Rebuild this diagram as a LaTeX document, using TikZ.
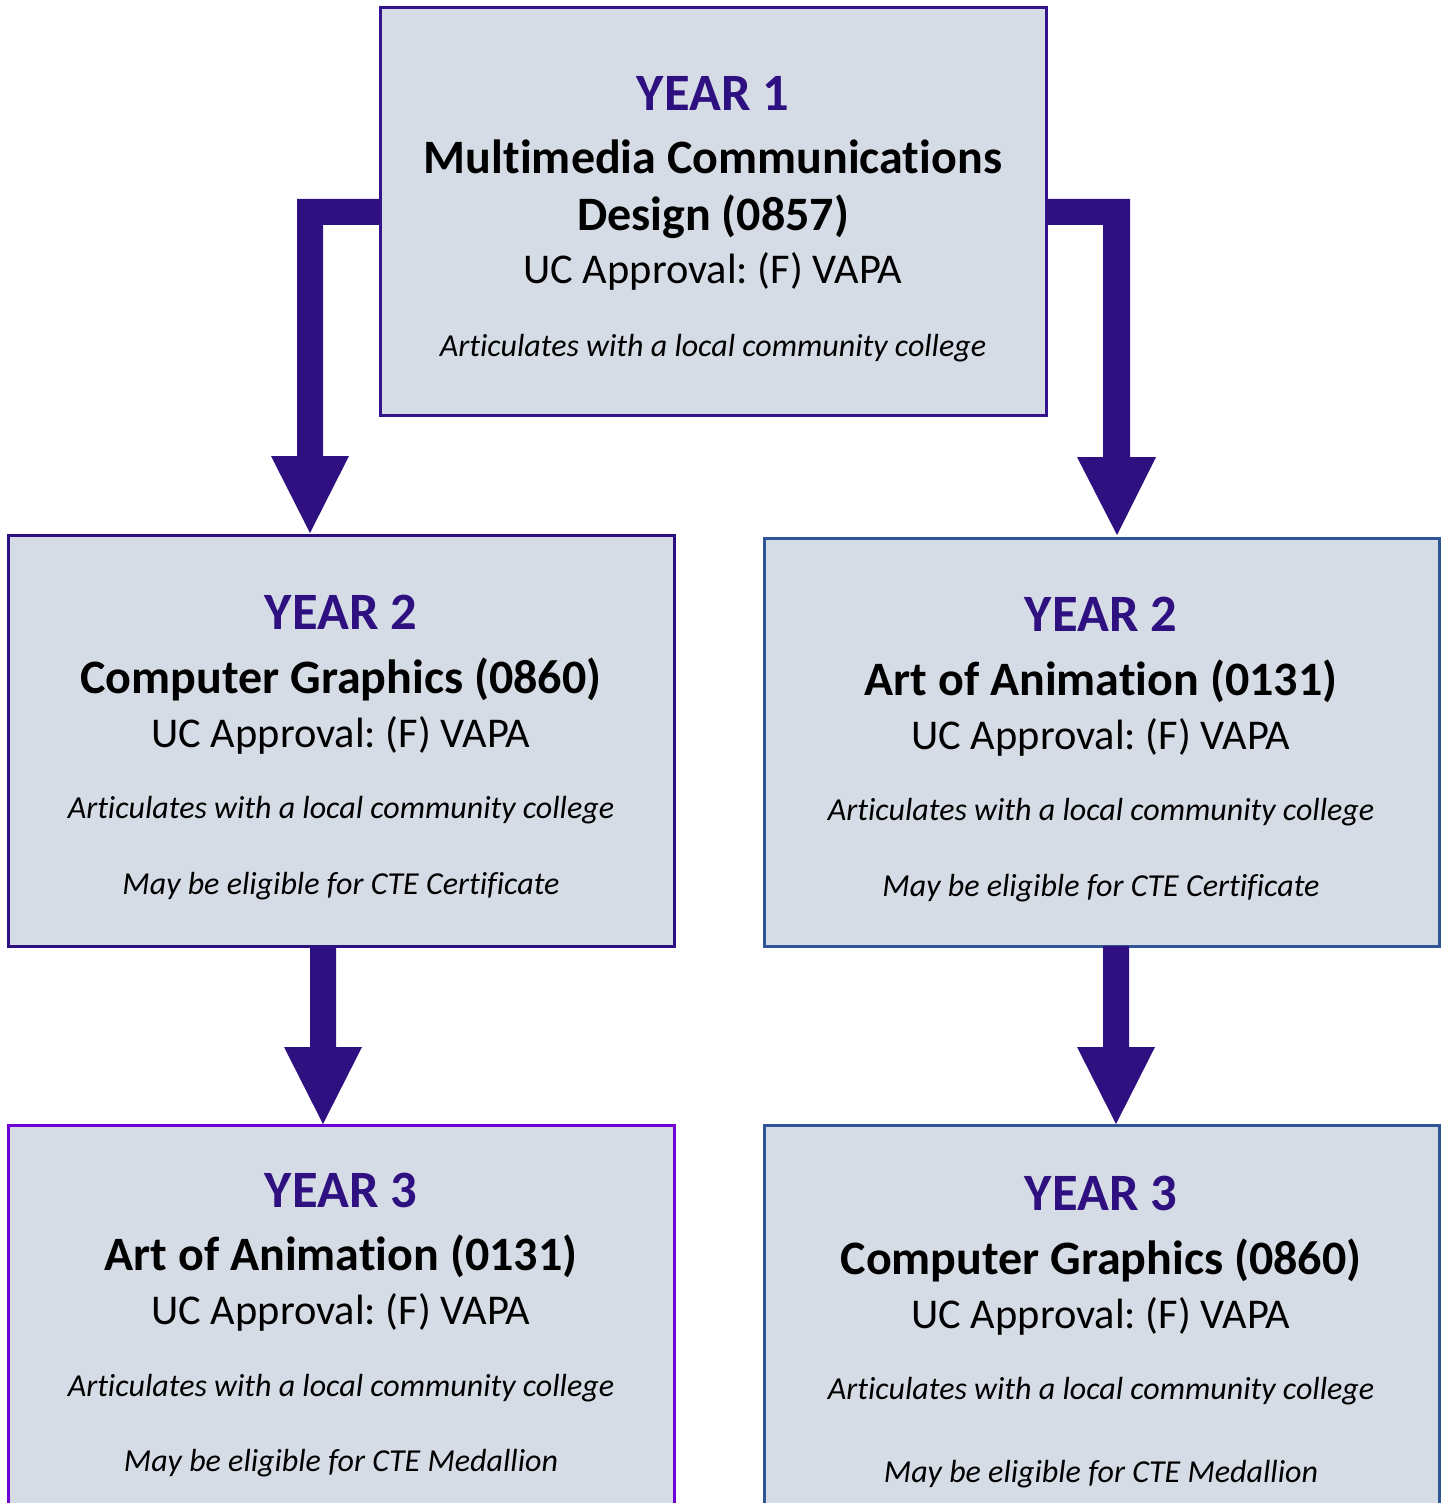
\documentclass[tikz,border=0pt]{standalone}
\usepackage{fontspec}
\setmainfont[Ligatures={NoCommon,TeX}]{Carlito}
\definecolor{boxfill}{HTML}{D6DCE5}
\definecolor{deeppurple}{HTML}{2E1080}
\definecolor{topborder}{HTML}{34148C}
\definecolor{blueborder}{HTML}{2F5597}
\definecolor{violetborder}{HTML}{7000D4}
\tikzset{
  card/.style={fill=boxfill, line width=3pt},
  yeartxt/.style={anchor=base, text=deeppurple, font=\fontsize{52.5}{60}\selectfont\bfseries, inner sep=0},
  coursetxt/.style={anchor=base, font=\fontsize{48}{56}\selectfont\bfseries, inner sep=0},
  uctxt/.style={anchor=base, font=\fontsize{42.4}{50}\selectfont, inner sep=0},
  notetxt/.style={anchor=base, font=\fontsize{32}{38}\selectfont\itshape, inner sep=0},
  flow/.style={fill=deeppurple, draw=none}
}
\begin{document}
\frenchspacing
\begin{tikzpicture}[x=1pt,y=-1pt]
\useasboundingbox (0,0) rectangle (1445,1503);
\clip (0,0) rectangle (1445,1503);
% boxes
\draw[card, draw=topborder] (380,8) rectangle (1046,415);
\draw[card, draw=deeppurple] (8,535) rectangle (674,946);
\draw[card, draw=blueborder] (764,538) rectangle (1439,946);
\draw[card, draw=violetborder] (8,1125) rectangle (674,1520);
\draw[card, draw=blueborder] (764,1125) rectangle (1439,1520);
% arrows
\fill[flow] (380,199) -- (297,199) -- (297,456) -- (271,456) -- (310,533) -- (349,456) -- (323,456) -- (323,225) -- (380,225) -- cycle;
\fill[flow] (1046,199) -- (1130,199) -- (1130,457) -- (1156,457) -- (1117,535) -- (1077,457) -- (1103,457) -- (1103,225) -- (1046,225) -- cycle;
\fill[flow] (310,946) -- (336,946) -- (336,1047) -- (362,1047) -- (323,1124) -- (284,1047) -- (310,1047) -- cycle;
\fill[flow] (1103,946) -- (1129,946) -- (1129,1047) -- (1155,1047) -- (1116,1124) -- (1077,1047) -- (1103,1047) -- cycle;
% top box text
\node[yeartxt] (t1) at (713,111) {YEAR 1};
\node[coursetxt] (t2) at (713,174) {Multimedia Communications};
\node[coursetxt] (t3) at (713,231) {Design (0857)};
\node[uctxt] (t4) at (713,284) {UC Approval: (F) VAPA};
\node[notetxt] (t5) at (713,356) {Articulates with a local community college};
% left year 2
\node[yeartxt] (a1) at (341,629) {YEAR 2};
\node[coursetxt] (a2) at (341,693) {Computer Graphics (0860)};
\node[uctxt] (a3) at (341,747) {UC Approval: (F) VAPA};
\node[notetxt] (a4) at (341,818) {Articulates with a local community college};
\node[notetxt] (a5) at (341,894) {May be eligible for CTE Certificate};
% right year 2
\node[yeartxt] (b1) at (1101,631) {YEAR 2};
\node[coursetxt] (b2) at (1101,695) {Art of Animation (0131)};
\node[uctxt] (b3) at (1101,749) {UC Approval: (F) VAPA};
\node[notetxt] (b4) at (1101,820) {Articulates with a local community college};
\node[notetxt] (b5) at (1101,896) {May be eligible for CTE Certificate};
% left year 3
\node[yeartxt] (c1) at (341,1207) {YEAR 3};
\node[coursetxt] (c2) at (341,1270) {Art of Animation (0131)};
\node[uctxt] (c3) at (341,1324) {UC Approval: (F) VAPA};
\node[notetxt] (c4) at (341,1396) {Articulates with a local community college};
\node[notetxt] (c5) at (341,1471) {May be eligible for CTE Medallion};
% right year 3
\node[yeartxt] (d1) at (1101,1210) {YEAR 3};
\node[coursetxt] (d2) at (1101,1274) {Computer Graphics (0860)};
\node[uctxt] (d3) at (1101,1328) {UC Approval: (F) VAPA};
\node[notetxt] (d4) at (1101,1399) {Articulates with a local community college};
\node[notetxt] (d5) at (1101,1482) {May be eligible for CTE Medallion};
\end{tikzpicture}
\end{document}
